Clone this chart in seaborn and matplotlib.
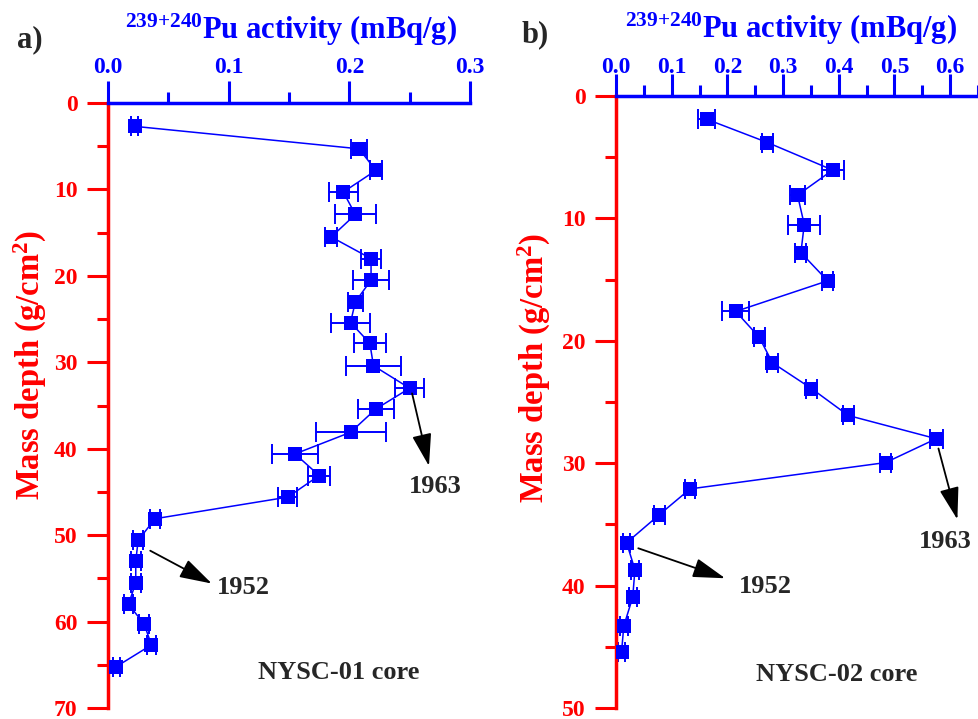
import numpy as np
import pandas as pd
import matplotlib
matplotlib.use('Agg')
import matplotlib.pyplot as plt
import seaborn as sns

# NYSC-01 core
a_depth = [2.7, 5.3, 7.8, 10.3, 12.9, 15.5, 18.0, 20.5, 23.0, 25.4, 27.8, 30.4, 33.0,
           35.4, 38.1, 40.6, 43.1, 45.6, 48.1, 50.6, 53.0, 55.5, 58.0, 60.3, 62.7, 65.2]
a_pu = [0.022, 0.208, 0.222, 0.195, 0.205, 0.185, 0.218, 0.218, 0.205, 0.201, 0.217, 0.220, 0.250,
        0.222, 0.201, 0.155, 0.175, 0.149, 0.039, 0.025, 0.023, 0.023, 0.017, 0.030, 0.036, 0.007]
a_err = [0.003, 0.007, 0.005, 0.012, 0.017, 0.005, 0.008, 0.015, 0.006, 0.016, 0.013, 0.023, 0.012,
         0.015, 0.029, 0.019, 0.009, 0.008, 0.004, 0.004, 0.004, 0.004, 0.004, 0.004, 0.004, 0.003]

# NYSC-02 core
b_depth = [1.9, 3.8, 6.05, 8.1, 10.5, 12.8, 15.1, 17.6, 19.7, 21.8, 23.9,
           26.1, 28.0, 29.95, 32.1, 34.2, 36.5, 38.7, 40.95, 43.3, 45.4]
b_pu = [0.163, 0.272, 0.389, 0.326, 0.338, 0.332, 0.380, 0.215, 0.257, 0.281, 0.351,
        0.417, 0.575, 0.484, 0.133, 0.078, 0.019, 0.034, 0.030, 0.014, 0.010]
b_err = [0.015, 0.010, 0.020, 0.013, 0.029, 0.010, 0.010, 0.024, 0.010, 0.010, 0.010,
         0.010, 0.012, 0.010, 0.009, 0.010, 0.007, 0.007, 0.007, 0.007, 0.007]

sns.set_style('ticks')
plt.rcParams['font.family'] = ['Liberation Serif', 'DejaVu Serif']
plt.rcParams['font.weight'] = 'bold'
plt.rcParams['mathtext.fontset'] = 'custom'
plt.rcParams['mathtext.rm'] = 'Liberation Serif:bold'
plt.rcParams['mathtext.it'] = 'Liberation Serif:bold'
plt.rcParams['mathtext.bf'] = 'Liberation Serif:bold'

XLABEL = r'$^{239{+}240}$Pu activity (mBq/g)'
YLABEL = r'Mass depth (g/cm$^2$)'


# Dibuja un perfil de actividad con barras de error horizontales
def draw_core(ax, depth, pu, err):
	ax.errorbar(pu, depth, xerr=err, fmt='none', ecolor='blue', elinewidth=1.4,
	            capsize=7.5, capthick=1.4, zorder=2)
	df = pd.DataFrame({'pu': pu, 'depth': depth})
	sns.lineplot(data=df, x='pu', y='depth', sort=False, estimator=None, color='blue',
	             lw=1.1, marker='s', markersize=9.5, markeredgewidth=0, ax=ax, zorder=3)


def style_axes(ax, xmax, xmajor, ymax, xpad):
	ax.set_xlim(0, xmax)
	ax.set_ylim(ymax, 0)
	ax.xaxis.tick_top()
	ax.xaxis.set_label_position('top')
	ax.set_xticks(np.arange(0, xmajor + 1e-9, 0.1))
	ax.set_xticks(np.arange(0.05, xmax + 1e-9, 0.1), minor=True)
	ax.set_xticklabels([f'{v:.1f}' for v in np.arange(0, xmajor + 1e-9, 0.1)])
	ax.set_yticks(np.arange(0, ymax + 1, 10))
	ax.set_yticks(np.arange(5, ymax, 10), minor=True)
	for s in ['bottom', 'right']:
		ax.spines[s].set_visible(False)
	ax.spines['left'].set_color('red')
	ax.spines['left'].set_linewidth(2.5)
	ax.spines['top'].set_color('blue')
	ax.spines['top'].set_linewidth(2.5)
	ax.tick_params(axis='y', which='major', length=15, width=2.2, color='red',
	               labelcolor='red', labelsize=17, pad=7, direction='out')
	ax.tick_params(axis='y', which='minor', length=8, width=2.2, color='red', direction='out')
	ax.tick_params(axis='x', which='major', length=16, width=2.2, color='blue',
	               labelcolor='blue', labelsize=17, pad=xpad, direction='out')
	ax.tick_params(axis='x', which='minor', length=8, width=2.2, color='blue', direction='out')
	for lab in ax.get_xticklabels() + ax.get_yticklabels():
		lab.set_fontweight('bold')
	ax.set_xlabel(XLABEL, color='blue', fontsize=22, fontweight='bold', va='center')
	ax.set_ylabel(YLABEL, color='red', fontsize=23.5, fontweight='bold', va='center')
	ax.grid(False)


fig = plt.figure(figsize=(9.79, 7.19), dpi=100)
ax1 = fig.add_axes([108 / 979, 1 - 708 / 719, 362 / 979, 605 / 719])
ax2 = fig.add_axes([616 / 979, 1 - 708 / 719, 362 / 979, 612 / 719])

draw_core(ax1, a_depth, a_pu, a_err)
style_axes(ax1, 0.3, 0.3, 70, 2)
ax1.xaxis.set_label_coords(0.506, 1.121)
ax1.yaxis.set_label_coords(-0.215, 0.567)

draw_core(ax2, b_depth, b_pu, b_err)
style_axes(ax2, 0.65, 0.6, 50, -3)
ax2.xaxis.set_label_coords(0.483, 1.109)
ax2.yaxis.set_label_coords(-0.224, 0.556)

arrow = dict(arrowstyle='-|>,head_length=1.0,head_width=0.3', mutation_scale=20,
             color='black', lw=1.3, shrinkA=0, shrinkB=0)

# Anotaciones panel a
ax1.annotate('', xy=(0.266, 42.0), xytext=(0.252, 33.6), arrowprops=arrow)
ax1.text(0.271, 44.4, '1963', fontsize=19, fontweight='bold', ha='center', va='center')
ax1.annotate('', xy=(0.086, 55.6), xytext=(0.035, 51.8), arrowprops=arrow)
ax1.text(0.112, 56.0, '1952', fontsize=19, fontweight='bold', ha='center', va='center')
ax1.text(0.191, 65.9, 'NYSC-01 core', fontsize=19, fontweight='bold', ha='center', va='center')

# Anotaciones panel b
ax2.annotate('', xy=(0.613, 34.6), xytext=(0.579, 28.8), arrowprops=arrow)
ax2.text(0.591, 36.4, '1963', fontsize=19, fontweight='bold', ha='center', va='center')
ax2.annotate('', xy=(0.196, 39.4), xytext=(0.040, 36.95), arrowprops=arrow)
ax2.text(0.269, 40.1, '1952', fontsize=19, fontweight='bold', ha='center', va='center')
ax2.text(0.396, 47.25, 'NYSC-02 core', fontsize=19, fontweight='bold', ha='center', va='center')

fig.text(30 / 979, 1 - 40 / 719, 'a)', fontsize=22, fontweight='bold', ha='center', va='center')
fig.text(535 / 979, 1 - 35 / 719, 'b)', fontsize=22, fontweight='bold', ha='center', va='center')

fig.savefig('out.png', dpi=100)
plt.close(fig)
